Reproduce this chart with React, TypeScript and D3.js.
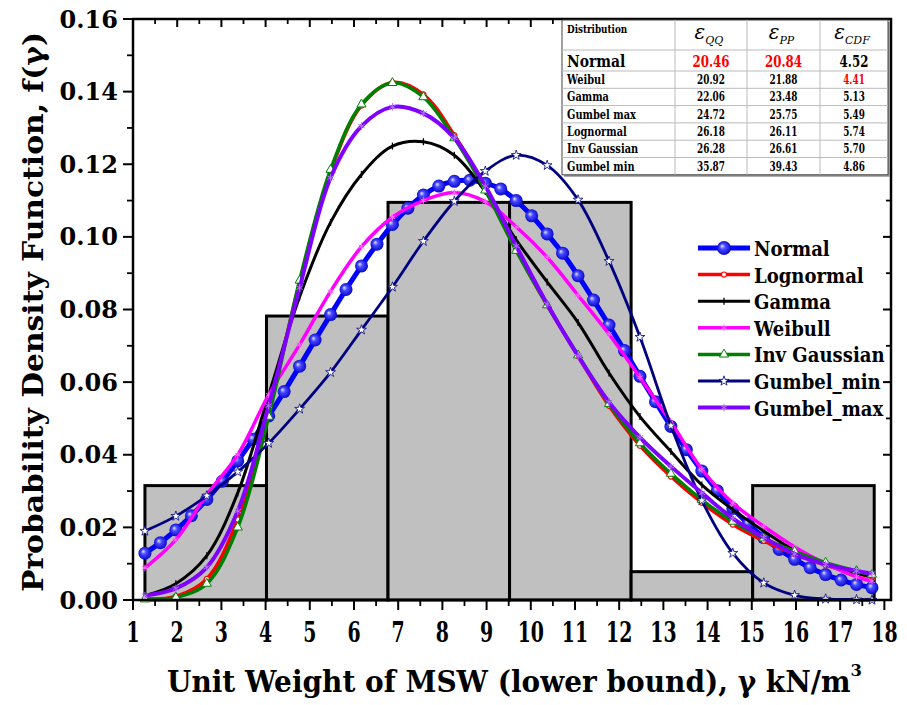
import * as d3 from 'd3'

// histogram of the measured unit weights, as density
const binEdges = [1.27, 4.02, 6.77, 9.52, 12.27, 15.02, 17.77]
const binDensity = [0.0315, 0.0782, 0.1095, 0.1095, 0.0078, 0.0315]

// normal fit, sampled finely (big markers)
const xNormal = [1.27, 1.62, 1.97, 2.32, 2.67, 3.02, 3.37, 3.72, 4.07, 4.42, 4.77, 5.12, 5.47, 5.82, 6.17, 6.52,
  6.87, 7.22, 7.57, 7.92, 8.27, 8.62, 8.97, 9.32, 9.67, 10.02, 10.37, 10.72, 11.07, 11.42, 11.77, 12.12,
  12.47, 12.82, 13.17, 13.52, 13.87, 14.22, 14.57, 14.92, 15.27, 15.62, 15.97, 16.32, 16.67, 17.02, 17.37, 17.72]
const normalPdf = [0.0129, 0.0158, 0.0193, 0.0232, 0.0277, 0.0327, 0.0383, 0.0443, 0.0507, 0.0574, 0.0644, 0.0716,
  0.0786, 0.0855, 0.0920, 0.0980, 0.1034, 0.1079, 0.1115, 0.1140, 0.1153, 0.1156, 0.1148, 0.1132, 0.1100, 0.1058,
  0.1008, 0.0955, 0.0893, 0.0826, 0.0757, 0.0687, 0.0616, 0.0546, 0.0478, 0.0414, 0.0355, 0.0301, 0.0252, 0.0210,
  0.0172, 0.0139, 0.0112, 0.0089, 0.0070, 0.0055, 0.0043, 0.0034]

// other fits
const xFit = [1.27, 1.97, 2.67, 3.37, 4.07, 4.77, 5.47, 6.17, 6.87, 7.57, 8.27, 8.97, 9.67, 10.37, 11.07, 11.77,
  12.47, 13.17, 13.87, 14.57, 15.27, 15.97, 16.67, 17.37, 17.72]
const lognormalPdf = [0.0003, 0.0010, 0.0058, 0.0222, 0.0520, 0.0875, 0.1180, 0.1362, 0.1425, 0.1392, 0.1280, 0.1135,
  0.0965, 0.0812, 0.0672, 0.0535, 0.0425, 0.0340, 0.0268, 0.0208, 0.0163, 0.0127, 0.0096, 0.0073, 0.0064]
const gammaPdf = [0.0012, 0.0045, 0.0122, 0.0295, 0.0565, 0.0835, 0.1040, 0.1172, 0.1250, 0.1262, 0.1225, 0.1125,
  0.0992, 0.0876, 0.0764, 0.0625, 0.0505, 0.0409, 0.0317, 0.0249, 0.0190, 0.0136, 0.0098, 0.0074, 0.0064]
const weibullPdf = [0.0088, 0.0166, 0.0290, 0.0400, 0.0565, 0.0703, 0.0850, 0.0973, 0.1054, 0.1100, 0.1122, 0.1097,
  0.1028, 0.0944, 0.0839, 0.0732, 0.0613, 0.0490, 0.0360, 0.0267, 0.0203, 0.0146, 0.0100, 0.0064, 0.0052]
const invGaussPdf = [0.0002, 0.0007, 0.0045, 0.0200, 0.0505, 0.0880, 0.1185, 0.1365, 0.1424, 0.1385, 0.1272, 0.1128,
  0.0962, 0.0812, 0.0674, 0.0540, 0.0432, 0.0348, 0.0276, 0.0216, 0.0170, 0.0134, 0.0103, 0.0080, 0.0070]
const gumbelMinPdf = [0.0190, 0.0231, 0.0287, 0.0353, 0.0432, 0.0526, 0.0627, 0.0744, 0.0862, 0.0988, 0.1098, 0.1181,
  0.1225, 0.1197, 0.1102, 0.0933, 0.0724, 0.0480, 0.0274, 0.0129, 0.0047, 0.0013, 0.0003, 0.0001, 0.0000]
const gumbelMaxPdf = [0.0012, 0.0032, 0.0090, 0.0245, 0.0535, 0.0860, 0.1163, 0.1305, 0.1358, 0.1340, 0.1272, 0.1140,
  0.0975, 0.0815, 0.0672, 0.0545, 0.0448, 0.0368, 0.0295, 0.0225, 0.0172, 0.0127, 0.0098, 0.0080, 0.0073]

const xTickLabels = d3.range(1, 19)
const yTickLabels = [0, 0.02, 0.04, 0.06, 0.08, 0.10, 0.12, 0.14, 0.16]

// error table
const tableNames = ['Normal', 'Weibul', 'Gamma', 'Gumbel max', 'Lognormal', 'Inv Gaussian', 'Gumbel min']
const eQQ = ['20.46', '20.92', '22.06', '24.72', '26.18', '26.28', '35.87']
const ePP = ['20.84', '21.88', '23.48', '25.75', '26.11', '26.61', '39.43']
const eCDF = ['4.52', '4.41', '5.13', '5.49', '5.74', '5.70', '4.86']

const series = [
  { name: 'Normal', xs: xNormal, ys: normalPdf, color: '#0000ff', w: 5, marker: 'ball' },
  { name: 'Lognormal', xs: xFit, ys: lognormalPdf, color: '#ff0000', w: 3.5, marker: 'circle' },
  { name: 'Gamma', xs: xFit, ys: gammaPdf, color: '#000000', w: 3, marker: 'tick' },
  { name: 'Weibull', xs: xFit, ys: weibullPdf, color: '#ff00ff', w: 3.5, marker: 'cross' },
  { name: 'Inv Gaussian', xs: xFit, ys: invGaussPdf, color: '#008000', w: 3.5, marker: 'triangle' },
  { name: 'Gumbel_min', xs: xFit, ys: gumbelMinPdf, color: '#000080', w: 2.8, marker: 'star' },
  { name: 'Gumbel_max', xs: xFit, ys: gumbelMaxPdf, color: '#8000ff', w: 4, marker: 'asterisk' },
]

const SERIF = "'DejaVu Serif'"

const triPath = d3.symbol(d3.symbolTriangle, 36)()
const starPath = d3.symbol(d3.symbolStar, 30)()
const astPath = d3.symbol(d3.symbolAsterisk, 40)()
const crossPath = d3.symbol(d3.symbolAsterisk, 30)()

function Marker({ kind, color, big = false }: { kind: string; color: string; big?: boolean }) {
  if (kind === 'ball') return <circle r={big ? 7 : 6.5} fill="url(#ball)" />
  if (kind === 'circle') return <circle r={2.6} fill="#fff" stroke={color} strokeWidth={1.2} />
  if (kind === 'tick') return <line y1={-3.5} y2={3.5} stroke={color} strokeWidth={1.3} />
  if (kind === 'cross') return <path d={crossPath ?? ''} fill="none" stroke="#ff66ff" strokeWidth={1} />
  if (kind === 'triangle') return <path d={triPath ?? ''} fill="#fff" stroke={color} strokeWidth={1} />
  if (kind === 'star') return <path d={starPath ?? ''} fill="#fff" stroke={color} strokeWidth={0.8} />
  return <path d={astPath ?? ''} fill="none" stroke="#b070ff" strokeWidth={1} />
}

// condensed text: DejaVu Serif squeezed horizontally to look like the narrower original face
function T({ x, y, sx = 1, size, anchor = 'start', fill = '#000', children }:
  { x: number; y: number; sx?: number; size: number; anchor?: string; fill?: string; children: any }) {
  return (
    <text transform={`translate(${x},${y}) scale(${sx},1)`} fontSize={size} textAnchor={anchor} fill={fill}>
      {children}
    </text>
  )
}

export default function App() {
  const x = d3.scaleLinear().domain([1, 18.15]).range([133, 891])
  const y = d3.scaleLinear().domain([0, 0.16]).range([600, 19])
  const [x0, x1] = x.range()
  const [y0, y1] = y.range()

  const line = (xs: number[], ys: number[]) =>
    d3.line<number>().x((_, i) => x(xs[i])).y((v) => y(v)).curve(d3.curveCatmullRom)(ys) ?? ''

  const xMinor = d3.range(1.5, 18.1, 1)
  const yMinor = d3.range(0.01, 0.16, 0.02)

  // table layout
  const tL = 562, tR = 888, tT = 20
  const colX = [tL, 675, 747, 820, tR]
  const rowH = [30, 21, 17.3, 17.3, 17.3, 17.3, 17.3, 17.3]
  const rowY = rowH.reduce<number[]>((acc, h) => [...acc, acc[acc.length - 1] + h], [tT])
  const colMid = [1, 2, 3].map((i) => (colX[i] + colX[i + 1]) / 2 - 2)

  const legX = 698, legY = 248, legStep = 26.6

  return (
    <svg width={907} height={705} style={{ position: 'absolute', left: 0, top: 0, background: '#fff' }}
      fontFamily={SERIF} fontWeight="bold">
      <defs>
        <radialGradient id="ball" cx="50%" cy="50%" r="55%" fx="35%" fy="35%">
          <stop offset="0%" stopColor="#e8e8ff" />
          <stop offset="35%" stopColor="#4a4aff" />
          <stop offset="100%" stopColor="#0000c8" />
        </radialGradient>
      </defs>
      <rect width={907} height={705} fill="#fff" />

      {/* histogram */}
      {binDensity.map((d, i) => (
        <rect key={i} x={x(binEdges[i])} y={y(d)} width={x(binEdges[i + 1]) - x(binEdges[i])} height={y(0) - y(d)}
          fill="#c0c0c0" stroke="#000" strokeWidth={3} />
      ))}

      {/* fitted curves */}
      {series.map((s) => (
        <g key={s.name}>
          <path d={line(s.xs, s.ys)} fill="none" stroke={s.color} strokeWidth={s.w} strokeLinejoin="round" />
          {s.ys.map((v, i) => (
            <g key={i} transform={`translate(${x(s.xs[i])},${y(v)})`}>
              <Marker kind={s.marker} color={s.color} />
            </g>
          ))}
        </g>
      ))}

      {/* frame and ticks */}
      <rect x={x0} y={y1} width={x1 - x0} height={y0 - y1} fill="none" stroke="#000" strokeWidth={2.5} />
      {xTickLabels.map((t) => (
        <g key={t}>
          <line x1={x(t)} x2={x(t)} y1={y0} y2={y0 + 10} stroke="#000" strokeWidth={2} />
          <line x1={x(t)} x2={x(t)} y1={y1} y2={y1 + 8} stroke="#000" strokeWidth={2} />
          <T x={x(t)} y={642} sx={0.7} size={27} anchor="middle">{t}</T>
        </g>
      ))}
      {xMinor.map((t) => (
        <g key={t}>
          <line x1={x(t)} x2={x(t)} y1={y0} y2={y0 + 6} stroke="#000" strokeWidth={1.8} />
          <line x1={x(t)} x2={x(t)} y1={y1} y2={y1 + 5} stroke="#000" strokeWidth={1.8} />
        </g>
      ))}
      {yTickLabels.map((t) => (
        <g key={t}>
          <line x1={x0 - 10} x2={x0} y1={y(t)} y2={y(t)} stroke="#000" strokeWidth={2} />
          <line x1={x1 - 8} x2={x1} y1={y(t)} y2={y(t)} stroke="#000" strokeWidth={2} />
          <text x={118} y={y(t) + 8.5} textAnchor="end" fontSize={24}>{t.toFixed(2)}</text>
        </g>
      ))}
      {yMinor.map((t) => (
        <g key={t}>
          <line x1={x0 - 6} x2={x0} y1={y(t)} y2={y(t)} stroke="#000" strokeWidth={1.8} />
          <line x1={x1 - 5} x2={x1} y1={y(t)} y2={y(t)} stroke="#000" strokeWidth={1.8} />
        </g>
      ))}

      {/* axis titles */}
      <text transform="translate(43,312) rotate(-90)" textAnchor="middle" fontSize={28}
        textLength={560} lengthAdjust="spacingAndGlyphs">
        Probability Density Function, f(γ)
      </text>
      <text x={167} y={692} fontSize={29} textLength={695} lengthAdjust="spacingAndGlyphs">
        Unit Weight of MSW (lower bound), γ kN/m<tspan fontSize={17} dy={-16}>3</tspan>
      </text>

      {/* legend */}
      {series.map((s, i) => {
        const ly = legY + i * legStep
        return (
          <g key={s.name}>
            <line x1={legX} x2={legX + 52} y1={ly} y2={ly} stroke={s.color} strokeWidth={s.w} />
            <g transform={`translate(${legX + 26},${ly})`}>
              <Marker kind={s.marker} color={s.color} big />
            </g>
            <T x={legX + 56} y={ly + 8} size={21} sx={0.86}>{s.name}</T>
          </g>
        )
      })}

      {/* error table */}
      <rect x={tL + 2} y={tT + 2} width={tR - tL} height={rowY[rowY.length - 1] - tT} fill="#999" />
      <rect x={tL} y={tT} width={tR - tL} height={rowY[rowY.length - 1] - tT} fill="#fff" stroke="#444" strokeWidth={1} />
      {rowY.slice(1, -1).map((ry, i) => (
        <line key={i} x1={tL} x2={tR} y1={ry} y2={ry} stroke="#bbb" strokeWidth={1} />
      ))}
      {colX.slice(1, -1).map((cx, i) => (
        <line key={i} x1={cx} x2={cx} y1={tT} y2={rowY[rowY.length - 1]} stroke="#bbb" strokeWidth={1} />
      ))}
      <T x={tL + 5} y={tT + 13} size={11} sx={0.8}>Distribution</T>
      {[['QQ', 0], ['PP', 1], ['CDF', 2]].map(([sub, i]) => (
        <text key={sub as string} x={colMid[i as number]} y={tT + 19} textAnchor="middle" fontWeight="normal"
          fontStyle="italic" fontSize={20}>
          ε<tspan fontSize={11} dy={5}>{sub}</tspan>
        </text>
      ))}
      {tableNames.map((n, i) => {
        const big = i === 0
        const base = (rowY[i + 1] + rowY[i + 2]) / 2 + (big ? 6 : 4.5)
        const vals = [eQQ[i], ePP[i], eCDF[i]]
        const red = [i === 0, i === 0, i === 1]
        return (
          <g key={n}>
            <T x={tL + 5} y={base} size={big ? 17 : 12} sx={0.82}>{n}</T>
            {vals.map((v, j) => (
              <T key={j} x={colMid[j] + 2} y={base} size={big ? 16 : 12} sx={0.74} anchor="middle"
                fill={red[j] ? '#ff0000' : '#000'}>{v}</T>
            ))}
          </g>
        )
      })}
    </svg>
  )
}
